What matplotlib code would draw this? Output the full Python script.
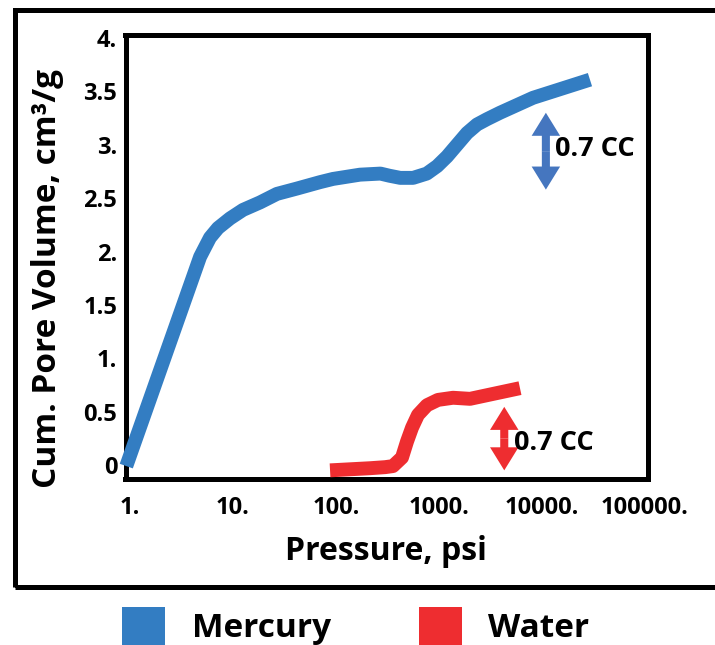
import matplotlib
matplotlib.use("Agg")
import matplotlib.pyplot as plt
from matplotlib.patches import Rectangle

plt.rcParams['font.family'] = ['Open Sans', 'DejaVu Sans']

# Data
mercury_p = [0.92, 4.79, 5.35, 5.98, 7.15, 9.35, 12.5, 18.3, 26.7, 41.8, 70, 93.5, 171, 270,
             330, 420, 560, 760, 960, 1196, 1496, 1872, 2340, 2925, 3910, 8180, 29200]
mercury_v = [-0.01, 1.95, 2.04, 2.13, 2.22, 2.31, 2.39, 2.46, 2.54, 2.59, 2.65, 2.68, 2.72, 2.73,
             2.71, 2.69, 2.69, 2.73, 2.80, 2.89, 3.00, 3.11, 3.19, 3.24, 3.30, 3.44, 3.61]
water_p = [87.5, 214, 300, 357, 437, 489, 547, 625, 764, 977, 1368, 2000, 3126, 6110]
water_v = [-0.05, -0.03, -0.02, -0.01, 0.07, 0.22, 0.35, 0.47, 0.56, 0.61, 0.63, 0.62, 0.66, 0.72]

x_ticks = [1, 10, 100, 1000, 10000, 100000]
x_tick_labels = ["1.", "10.", "100.", "1000.", "10000.", "100000."]
y_ticks = [0, 0.5, 1, 1.5, 2, 2.5, 3, 3.5, 4]
y_tick_labels = ["0", "0.5", "1.", "1.5", "2.", "2.5", "3.", "3.5", "4."]

# annotation arrows: x position, y bottom, y top
arrow_mercury = (10900, 2.58, 3.30)
arrow_water = (4300, -0.05, 0.545)
annot_text = "0.7 CC"

BLUE = '#337DC2'
BLUE_ARROW = '#4576BF'
RED = '#EE2D30'

W, H = 715, 645
fig = plt.figure(figsize=(W / 100, H / 100), dpi=100)

def fx(px):
    return px / W

def fy(py):
    return 1 - py / H

ax = fig.add_axes([fx(125.5), fy(479), fx(647.5) - fx(125.5), fy(34.5) - fy(479)])
ax.set_xscale('log')
ax.set_xlim(0.904, 105700)
ax.set_ylim(-0.131, 4.033)

ax.plot(mercury_p, mercury_v, color=BLUE, lw=10, solid_capstyle='butt',
        solid_joinstyle='round', clip_on=False, zorder=3)
ax.plot(water_p, water_v, color=RED, lw=10, solid_capstyle='butt',
        solid_joinstyle='round', clip_on=False, zorder=3)

for spine in ax.spines.values():
    spine.set_linewidth(3.6)
    spine.set_color('black')

ax.set_xticks(x_ticks)
ax.set_xticklabels(x_tick_labels)
ax.xaxis.set_minor_locator(matplotlib.ticker.NullLocator())
ax.set_yticks(y_ticks)
ax.set_yticklabels(y_tick_labels)
ax.tick_params(axis='both', length=0)
ax.tick_params(axis='x', pad=12, labelsize=17)
ax.tick_params(axis='y', pad=6, labelsize=17)
for lab in ax.get_xticklabels() + ax.get_yticklabels():
    lab.set_fontweight('bold')

def double_arrow(x, y0, y1, color):
    ym = (y0 + y1) / 2
    style = 'simple,head_length=1.66,head_width=2.05,tail_width=0.58'
    for yt in (y0, y1):
        ax.annotate('', xy=(x, yt), xytext=(x, ym),
                    arrowprops=dict(arrowstyle=style, color=color, lw=0,
                                    shrinkA=0, shrinkB=0, mutation_scale=10))

double_arrow(*arrow_mercury, BLUE_ARROW)
double_arrow(*arrow_water, RED)

ax.text(fx(555), fy(149.5), annot_text, transform=fig.transFigure, fontsize=19.5,
        fontweight='bold', ha='left', va='center')
ax.text(fx(514), fy(442.5), annot_text, transform=fig.transFigure, fontsize=19.5,
        fontweight='bold', ha='left', va='center')

fig.text(fx(48), fy(278.5), "Cum. Pore Volume, cm³/g", rotation=90, fontsize=24,
         fontweight='bold', ha='center', va='center')
fig.text(fx(385.5), fy(560), "Pressure, psi", fontsize=23, fontweight='bold',
         ha='center', va='baseline')

# outer frame
fig.patches.append(Rectangle((fx(14.5), fy(587)), fx(760) - fx(14.5), fy(9.5) - fy(587),
                             transform=fig.transFigure, fill=False, lw=3.6,
                             edgecolor='black', clip_on=False))

# legend
fig.patches.append(Rectangle((fx(122), fy(660)), fx(43), fy(607) - fy(660),
                             transform=fig.transFigure, facecolor=BLUE, edgecolor='none'))
fig.patches.append(Rectangle((fx(419), fy(660)), fx(43), fy(607) - fy(660),
                             transform=fig.transFigure, facecolor=RED, edgecolor='none'))
fig.text(fx(192), fy(637), "Mercury", fontsize=24, fontweight='bold', ha='left', va='baseline')
fig.text(fx(488), fy(637), "Water", fontsize=24, fontweight='bold', ha='left', va='baseline')

fig.savefig('out.png', dpi=100)
